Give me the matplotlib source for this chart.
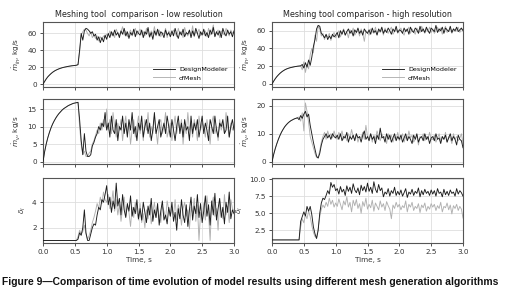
import numpy as np
import matplotlib
matplotlib.use('Agg')
from matplotlib import pyplot as plt

dt = 0.025  # time step of the sampled series, s

# ---- low resolution ----
mi_low_dm = [0, 3, 6, 8.5, 10.5, 12.3, 13.9, 15.2, 16.3, 17.2, 18, 18.7, 19.3, 19.8, 20.2, 20.6, 21, 21.3, 21.6, 21.8, 22,
             22.3, 23, 40, 60, 52, 63, 66, 65, 63, 60, 62, 57, 59, 52, 56, 49, 55, 50, 58, 53,
             60, 55, 62, 57, 64, 58, 61, 55, 63, 59, 66, 57, 62, 54, 61, 58, 65, 56, 63, 60,
             58, 64, 55, 62, 59, 67, 56, 61, 53, 63, 58, 65, 57, 62, 60, 55, 64, 58, 61, 56,
             63, 57, 66, 59, 54, 62, 58, 65, 56, 61, 59, 64, 55, 63, 57, 66, 60, 54, 62, 58,
             65, 57, 61, 55, 64, 59, 67, 56, 62, 58, 63, 55, 66, 60, 57, 64, 59, 62, 56, 63]
mi_low_cf = [0, 3, 6, 8.5, 10.5, 12.3, 13.9, 15.2, 16.3, 17.2, 18, 18.7, 19.3, 19.8, 20.2, 20.6, 21, 21.3, 21.6, 21.8, 22,
             22.3, 23, 38, 58, 62, 65, 64, 60, 57, 62, 55, 58, 54, 57, 51, 56, 53, 57, 55, 59,
             57, 63, 58, 61, 55, 65, 60, 57, 62, 68, 58, 63, 56, 60, 64, 57, 61, 66, 58, 62,
             65, 59, 62, 57, 66, 60, 55, 63, 59, 68, 57, 62, 64, 56, 61, 59, 66, 55, 63, 60,
             58, 64, 61, 56, 66, 59, 62, 55, 67, 60, 57, 63, 58, 69, 56, 62, 60, 65, 57, 61,
             59, 63, 56, 66, 58, 62, 70, 57, 61, 64, 55, 63, 60, 58, 66, 61, 57, 64, 60, 62]

mv_low_dm = [0, 2.8, 5, 6.8, 8.3, 9.6, 10.7, 11.6, 12.4, 13.1, 13.7, 14.2, 14.7, 15.1, 15.4, 15.7, 16, 16.2, 16.4, 16.6, 16.7, 16.8, 16.9,
             12, 6, 2, 8, 3, 1.5, 1.5, 2, 4.5, 5.5, 7, 8, 10, 9, 11, 10, 14, 9,
             11, 7, 13, 9, 8, 12, 6, 10, 9, 13, 8, 11, 7, 12, 9, 14, 8, 10, 6, 11,
             9, 13, 7, 10, 12, 8, 11, 6, 9, 14, 8, 10, 12, 7, 9, 11, 8, 13, 10, 7,
             12, 9, 6, 10, 13, 8, 11, 7, 12, 9, 10, 6, 13, 8, 11, 9, 12, 7, 10, 13,
             8, 11, 9, 6, 12, 10, 8, 13, 9, 7, 11, 10, 12, 8, 9, 13, 7, 10, 12, 9]
mv_low_cf = [0, 2.8, 5, 6.8, 8.3, 9.6, 10.7, 11.6, 12.4, 13.1, 13.7, 14.2, 14.7, 15.1, 15.4, 15.7, 16, 16.2, 16.4, 16.6, 16.7, 16.8, 16.9,
             10, 5, 2, 3, 1.5, 1.5, 2.5, 3, 5, 6, 7.5, 9, 8, 11, 9, 12, 10, 15,
             9, 12, 8, 14, 10, 7, 11, 9, 12, 6, 10, 13, 8, 11, 5, 9, 12, 7, 10, 13,
             8, 11, 6, 12, 9, 14, 7, 10, 8, 13, 9, 5, 11, 12, 8, 10, 14, 7, 9, 11,
             6, 10, 13, 8, 11, 9, 12, 5, 10, 8, 14, 9, 11, 7, 12, 10, 6, 13, 9, 11,
             10, 7, 12, 9, 5, 11, 13, 8, 10, 6, 12, 9, 11, 8, 14, 10, 7, 11, 9, 10]

dl_low_dm = [1.0] * 22 + [
    1.1, 1.6, 1.4, 2.0, 3.4, 1.6, 1.0, 1.0, 1.5, 2.0, 2.3, 2.2, 3.0, 3.6, 3.4, 4.2, 4.0, 4.6, 5.3,
    3.8, 4.4, 3.2, 4.1, 3.5, 5.5, 3.7, 4.3, 3.0, 4.6, 3.4, 2.8, 3.9, 3.3, 4.5, 2.9, 3.6, 3.1, 4.2, 2.7,
    3.5, 2.6, 4.0, 3.2, 2.4, 3.7, 3.0, 4.3, 2.5, 3.4, 2.8, 3.9, 2.2, 3.3, 4.1, 2.6, 3.0, 2.3, 3.6, 2.9,
    4.0, 2.5, 3.2, 1.8, 3.5, 2.7, 4.2, 3.0, 2.4, 3.8, 2.1, 3.4, 4.4, 2.6, 3.7, 3.1, 4.6, 2.8, 3.9, 2.4,
    3.3, 4.5, 2.9, 3.8, 2.2, 4.1, 3.0, 4.7, 2.6, 3.5, 4.3, 2.8, 3.6, 2.3, 4.0, 3.2, 4.8, 2.7, 3.4, 3.1]
dl_low_cf = [1.0] * 22 + [
    1.3, 1.8, 1.5, 1.7, 2.2, 1.5, 1.1, 1.4, 1.8, 2.4, 2.8, 3.3, 3.9, 3.5, 4.4, 3.9, 4.8, 4.2, 4.0,
    4.6, 3.5, 3.9, 4.9, 3.3, 4.2, 3.0, 3.8, 2.5, 3.5, 4.4, 2.9, 3.7, 3.2, 2.1, 3.6, 2.8, 4.0, 3.3, 2.6,
    3.9, 2.4, 3.1, 2.0, 3.4, 2.7, 3.8, 2.3, 3.2, 4.0, 2.8, 3.5, 3.0, 2.4, 3.7, 3.3, 2.7, 4.1, 3.4, 2.9,
    3.6, 3.0, 4.2, 2.6, 3.8, 3.3, 2.2, 3.5, 4.0, 2.9, 3.4, 1.9, 3.6, 3.1, 4.3, 2.5, 3.8, 1.0, 3.2, 2.7,
    3.9, 2.6, 4.5, 3.1, 1.0, 3.8, 4.4, 2.9, 3.5, 1.8, 4.1, 3.3, 2.7, 4.6, 3.0, 3.7, 2.4, 4.2, 3.5, 3.3]

# ---- high resolution ----
mi_high_dm = [0, 3, 5.8, 8.2, 10.2, 12, 13.5, 14.8, 15.9, 16.8, 17.5, 18.1, 18.6, 19, 19.4, 19.7, 20, 20.2, 20.4,
              22, 18, 24, 19, 27, 21, 30, 42, 50, 62, 66, 65, 57, 55, 52, 56, 50, 54, 51, 56, 53, 55,
              58, 52, 60, 56, 61, 55, 59, 62, 57, 60, 54, 61, 58, 63, 57, 60, 55, 62, 59, 57,
              61, 56, 63, 58, 60, 55, 62, 59, 64, 57, 61, 58, 63, 60, 56, 62, 59, 65, 58, 61,
              60, 57, 63, 59, 62, 56, 64, 60, 58, 63, 61, 57, 65, 59, 62, 58, 64, 60, 57, 63,
              61, 59, 66, 58, 62, 60, 64, 57, 63, 61, 59, 65, 58, 62, 60, 64, 59, 61, 63, 60]
mi_high_cf = [0, 3, 5.8, 8.2, 10.2, 12, 13.5, 14.8, 15.9, 16.8, 17.5, 18.1, 18.6, 19, 19.4, 19.7, 20, 20.2, 20.4,
              16, 25, 13, 22, 17, 33, 40, 35, 55, 48, 65, 62, 54, 57, 50, 55, 53, 57, 49, 55, 58, 52,
              56, 60, 53, 58, 62, 55, 59, 52, 61, 57, 63, 55, 58, 60, 54, 62, 57, 48, 60, 58,
              55, 62, 59, 57, 64, 56, 60, 58, 62, 55, 63, 59, 57, 61, 64, 56, 59, 62, 57, 60,
              63, 58, 55, 61, 60, 64, 57, 62, 59, 56, 63, 60, 58, 65, 61, 57, 62, 59, 64, 58,
              62, 57, 60, 64, 59, 63, 56, 61, 65, 58, 60, 63, 57, 62, 59, 61, 64, 58, 62, 61]

mv_high_dm = [0, 2.5, 4.6, 6.4, 8, 9.4, 10.6, 11.6, 12.5, 13.2, 13.8, 14.3, 14.7, 15, 15.3, 15.5, 15.7,
              15, 16.5, 15.5, 17, 18, 16, 17, 13, 10, 7, 4.5, 2, 1.3, 3, 6, 8, 9, 10, 8.5, 9.5, 8, 10, 9, 8.5,
              9.5, 8, 10, 7.5, 9, 8.5, 10.5, 7, 9, 8, 9.5, 7.5, 10, 8.5, 9, 7, 9.5, 11, 8, 9,
              7.5, 10, 8, 9, 6.5, 9.5, 8, 12, 8.5, 9, 7, 10, 8, 9.5, 7, 8.5, 10, 7.5, 9, 8,
              9.5, 7, 8.5, 10, 7.5, 9, 8, 6.5, 9.5, 8, 10, 7, 8.5, 9, 7.5, 10, 8, 9, 6.5, 8.5,
              9, 7.5, 10, 8, 8.5, 6.5, 9, 8, 9.5, 7, 8.5, 10, 7.5, 9, 8, 6, 9.5, 8, 7.5, 5]
mv_high_cf = [0, 2.5, 4.6, 6.4, 8, 9.4, 10.6, 11.6, 12.5, 13.2, 13.8, 14.3, 14.7, 15, 15.3, 15.5, 15.7,
              16, 14.5, 17.5, 11, 21, 18, 14, 9, 7, 5, 3, 1.5, 1.5, 4, 7, 9, 10.5, 8, 11, 9, 10, 8.5, 11, 9,
              8, 10.5, 9, 11, 8, 9.5, 7.5, 10, 8.5, 11.5, 9, 8, 10, 7, 9, 8.5, 10.5, 8, 13, 9,
              8.5, 10, 7, 9.5, 8, 11, 9, 7.5, 10, 8.5, 9, 6.5, 10, 8, 9.5, 7, 9, 8, 10.5, 7.5,
              8.5, 10, 7, 9, 8, 11, 8.5, 9.5, 7, 8, 9.5, 6, 9, 8.5, 10, 7.5, 9, 8, 10.5, 8,
              8, 9.5, 7, 8.5, 10, 7.5, 9, 8, 10.5, 7, 9, 8.5, 6.5, 10, 8, 9, 7.5, 8.5, 10, 6.5]

dl_high_dm = [1.1] * 18 + [
    3.8, 4.5, 5.2, 4.6, 6.0, 5.3, 6.0, 4.8, 3.0, 2.0, 1.3, 2.5, 5.0, 6.5, 7.2, 7.0, 7.6, 8.3, 7.8, 9.5, 8.8, 9.2, 8.3,
    8.6, 7.8, 8.9, 8.1, 8.5, 7.6, 9.0, 8.2, 8.8, 7.9, 9.3, 8.4, 8.0, 8.7, 7.7, 9.1, 8.3, 8.9, 8.1, 9.4,
    8.2, 8.8, 7.9, 9.6, 8.5, 8.0, 9.2, 8.3, 8.7, 7.4, 8.1, 7.8, 8.6, 7.5, 8.3, 7.9, 8.8, 7.6, 8.2, 7.7,
    8.4, 7.5, 8.0, 8.6, 7.3, 8.1, 7.8, 8.5, 7.6, 8.2, 7.9, 8.7, 7.4, 8.3, 7.7, 8.5, 7.9, 8.2, 7.6, 8.4,
    7.8, 8.3, 7.5, 8.6, 7.9, 8.1, 7.4, 8.5, 7.7, 8.2, 7.6, 8.4, 7.9, 8.1, 7.5, 8.6, 7.8, 8.3, 8.0, 7.5]
dl_high_cf = [1.1] * 18 + [
    3.0, 4.2, 3.6, 4.8, 4.2, 5.3, 4.5, 3.2, 2.2, 1.6, 1.4, 2.8, 4.5, 5.6, 6.2, 5.8, 6.6, 6.0, 7.2, 6.3, 6.9, 5.9, 6.5,
    6.0, 7.1, 6.3, 5.5, 6.8, 6.2, 7.4, 5.9, 6.6, 5.2, 6.9, 6.1, 7.0, 5.7, 6.4, 5.0, 6.7, 6.0, 7.2, 5.6,
    6.3, 5.8, 6.9, 5.3, 6.5, 6.0, 5.5, 6.8, 5.9, 6.4, 5.4, 6.7, 6.1, 5.6, 4.2, 6.2, 5.7, 6.6, 5.9, 6.3,
    5.5, 6.1, 5.8, 6.8, 5.2, 6.3, 5.9, 6.6, 5.4, 6.0, 5.7, 6.4, 5.1, 6.2, 5.8, 6.5, 5.3, 6.0, 5.6, 6.4,
    5.9, 6.3, 5.4, 6.1, 5.7, 6.6, 5.2, 6.0, 5.8, 6.5, 5.5, 6.2, 4.9, 6.1, 5.7, 6.3, 5.4, 6.0, 5.6, 4.3]

titles = ['Meshing tool  comparison - low resolution', 'Meshing tool comparison - high resolution']
ylabels = [r'$\dot{m}_{in}$, kg/s', r'$\dot{m}_{v}$, kg/s', r'$\delta_l$']
caption = 'Figure 9\u2014Comparison of time evolution of model results using different mesh generation algorithms'

series = [
    [(mi_low_dm, mi_low_cf), (mv_low_dm, mv_low_cf), (dl_low_dm, dl_low_cf)],
    [(mi_high_dm, mi_high_cf), (mv_high_dm, mv_high_cf), (dl_high_dm, dl_high_cf)],
]
ylims = [
    [(-3.5, 73.5), (-0.65, 17.85), (0.8, 5.9)],
    [(-3.4, 69.8), (-0.8, 22.4), (0.65, 10.15)],
]
yticks = [
    [[0, 20, 40, 60], [0, 5, 10, 15], [2, 4]],
    [[0, 20, 40, 60], [0, 10, 20], [2.5, 5.0, 7.5, 10.0]],
]

W, H = 507, 295
fig = plt.figure(figsize=(W / 100, H / 100), dpi=100)

col_left = [43, 272]
col_w = 191
row_top = [22, 99, 178]
row_h = 65

for c in range(2):
    for r in range(3):
        ax = fig.add_axes([col_left[c] / W, 1 - (row_top[r] + row_h) / H, col_w / W, row_h / H])
        dm, cf = series[c][r]
        t_dm = np.arange(len(dm)) * dt
        t_cf = np.arange(len(cf)) * dt
        ax.plot(t_dm, dm, color='#1c1c1c', lw=0.65, label='DesignModeler', zorder=3)
        ax.plot(t_cf, cf, color='#b0b0b0', lw=0.65, label='cfMesh', zorder=2)

        ax.set_xlim(0, 3.0)
        ax.set_ylim(*ylims[c][r])
        ax.set_xticks(np.arange(0, 3.01, 0.5))
        ax.set_yticks(yticks[c][r])
        ax.grid(True, color='#dedede', lw=0.6)
        ax.set_axisbelow(True)
        for s in ax.spines.values():
            s.set_color('#555555')
            s.set_linewidth(0.8)
        ax.tick_params(labelsize=5.2, colors='#333333', length=2.5, width=0.6, pad=2)
        ax.set_ylabel(ylabels[r], fontsize=5.2, color='#333333', labelpad=3)

        if r == 0:
            ax.set_title(titles[c], fontsize=5.8, color='#222222', pad=3.5)
            ax.legend(loc='lower right', fontsize=4.6, frameon=False, handlelength=3.4,
                      handletextpad=0.6, borderaxespad=0.6, labelspacing=0.5)
        if r < 2:
            ax.set_xticklabels([])
        else:
            ax.set_xticklabels(['0.0', '0.5', '1.0', '1.5', '2.0', '2.5', '3.0'])
            ax.set_xlabel('Time, s', fontsize=5.2, color='#333333', labelpad=1.5)

fig.text(2 / W, 1 - 282 / H, caption, fontsize=7.4, fontweight='bold',
         family='Liberation Sans', color='#111111', va='center', ha='left')

plt.savefig('out.png', dpi=100)
